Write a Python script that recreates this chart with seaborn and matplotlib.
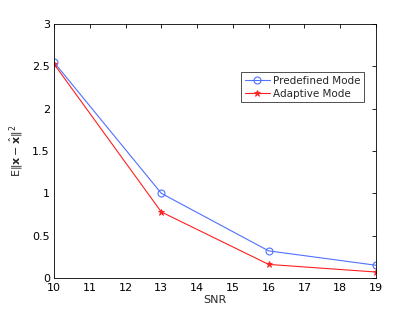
import pandas as pd
import numpy as np
import matplotlib
matplotlib.use('Agg')
import matplotlib.pyplot as plt
import seaborn as sns

snr = [10, 13, 16, 19]
predefined = [2.55, 1.00, 0.32, 0.15]
adaptive = [2.53, 0.78, 0.16, 0.07]
series_names = ['Predefined Mode', 'Adaptive Mode']

df = pd.DataFrame({
    'SNR': snr * 2,
    'value': predefined + adaptive,
    'mode': [series_names[0]] * len(snr) + [series_names[1]] * len(snr),
})

blue = '#5070ff'
red = '#ff2020'

sns.set_style('white')
plt.rcParams['font.family'] = ['DejaVu Sans']

fig = plt.figure(figsize=(4.15, 3.13), dpi=100)
ax = fig.add_axes([0.130, 0.112, 0.776, 0.811])

sns.lineplot(data=df, x='SNR', y='value', hue='mode', style='mode',
             palette={series_names[0]: blue, series_names[1]: red},
             markers={series_names[0]: 'o', series_names[1]: '*'},
             dashes=False, linewidth=0.8, markersize=5, ax=ax)

# matlab-style markers: open circle, star with coloured edge
def fix_markers(lines):
    for line in lines:
        if line.get_marker() == 'o':
            line.set_markerfacecolor('none')
            line.set_markeredgecolor(blue)
            line.set_markeredgewidth(0.8)
        elif line.get_marker() == '*':
            line.set_markerfacecolor(red)
            line.set_markeredgecolor(red)
            line.set_markeredgewidth(0.6)

fix_markers(ax.lines)

ax.set_xlim(10, 19)
ax.set_ylim(0, 3)
ax.set_xticks(range(10, 20))
ax.set_yticks([0, 0.5, 1, 1.5, 2, 2.5, 3])
ax.set_yticklabels(['0', '0.5', '1', '1.5', '2', '2.5', '3'])
ax.tick_params(direction='in', top=True, right=True, length=3, width=0.6,
               labelsize=8, colors='black')
ax.tick_params(axis='x', pad=4)
ax.tick_params(axis='y', pad=3)
for s in ax.spines.values():
    s.set_visible(True)
    s.set_color('black')
    s.set_linewidth(0.6)

ax.set_xlabel('SNR', fontsize=8, labelpad=1)
ax.set_ylabel(r'$\mathrm{E}\|\mathbf{x}-\hat{\mathbf{x}}\|^2$', fontsize=8, labelpad=4)

handles, labels = ax.get_legend_handles_labels()
leg = ax.legend(handles, labels, loc='upper left', bbox_to_anchor=(0.565, 0.83),
                fontsize=7.5, frameon=True, fancybox=False, edgecolor='black',
                handlelength=2.4, borderpad=0.35, labelspacing=0.25, handletextpad=0.3)
leg.get_frame().set_linewidth(0.6)
fix_markers(leg.get_lines())

fig.savefig('out.png', dpi=100, facecolor='white')
